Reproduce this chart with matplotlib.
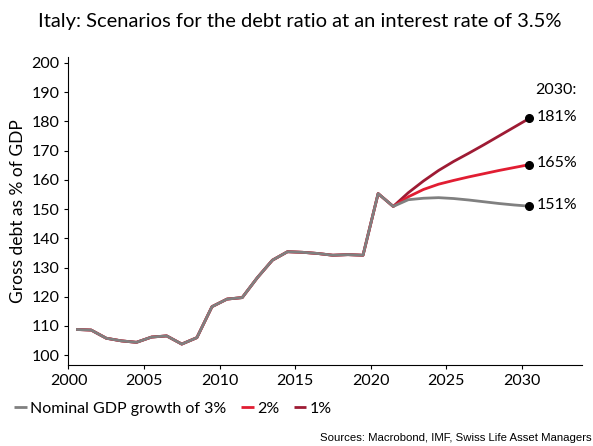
import numpy as np
import matplotlib.pyplot as plt

plt.rcParams['font.family'] = ['Lato', 'DejaVu Sans']

# annual data, plotted at mid-year
years_hist = list(range(2000, 2022))
debt_hist = [108.8, 108.6, 105.8, 104.9, 104.4, 106.2, 106.6, 103.8, 106.0, 116.6,
             119.2, 119.7, 126.5, 132.5, 135.4, 135.2, 134.8, 134.2, 134.4, 134.2,
             155.3, 150.9]
years_proj = list(range(2022, 2031))
g3 = [153.2, 153.7, 153.9, 153.6, 153.1, 152.5, 151.9, 151.4, 151.0]
g2 = [154.2, 156.7, 158.5, 159.8, 161.0, 162.1, 163.2, 164.2, 165.2]
g1 = [155.6, 159.6, 163.2, 166.3, 169.1, 172.0, 175.0, 178.0, 181.0]
labels = ["Nominal GDP growth of 3%", "2%", "1%"]
colors = ["#808080", "#e11d32", "#9e1b34"]
end_labels = ["151%", "165%", "181%"]

fig = plt.figure(figsize=(5.93, 4.46), dpi=100)
ax = fig.add_axes([0.1155, 0.182, 0.866, 0.69])

x_hist = np.array(years_hist) + 0.5
x_proj = np.array(years_proj) + 0.5
series = [g3, g2, g1]
handles = [None] * 3
for i in [2, 1, 0]:
    x = np.concatenate([x_hist, x_proj])
    y = debt_hist + series[i]
    handles[i], = ax.plot(x, y, color=colors[i], lw=2.0, zorder=3 - i,
                          solid_capstyle='butt')

for i in range(3):
    ax.plot(x_proj[-1], series[i][-1], 'o', color='black', ms=5.5, zorder=5)
    ax.text(x_proj[-1] + 0.5, series[i][-1] + 0.4, end_labels[i], fontsize=11.5,
            va='center', ha='left')
ax.text(x_proj[-1] + 0.4, 190.6, "2030:", fontsize=11.5, va='center', ha='left')

ax.set_xlim(2000, 2034)
ax.set_ylim(96.7, 202)
ax.set_xticks([2000, 2005, 2010, 2015, 2020, 2025, 2030])
ax.set_yticks(range(100, 201, 10))
ax.spines['top'].set_visible(False)
ax.spines['right'].set_visible(False)
ax.tick_params(labelsize=11.5, length=3, direction='out')
ax.set_ylabel("Gross debt as % of GDP", fontsize=12.5, labelpad=4)

fig.text(0.505, 0.952, "Italy: Scenarios for the debt ratio at an interest rate of 3.5%",
         fontsize=14.5, ha='center', va='center')

fig.legend(handles, labels, loc='lower left', bbox_to_anchor=(0.0, 0.035),
           ncol=3, frameon=False, fontsize=11.5, handlelength=0.8,
           handletextpad=0.2, columnspacing=0.9)

fig.text(0.997, 0.006, "Sources: Macrobond, IMF, Swiss Life Asset Managers",
         fontsize=8.2, ha='right', va='bottom', family='Liberation Sans')

fig.savefig("out.png", dpi=100)
